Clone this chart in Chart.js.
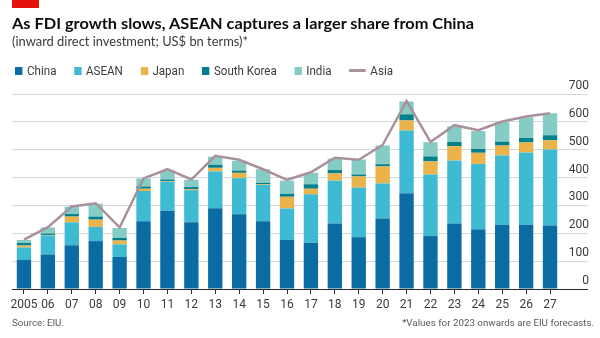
<!DOCTYPE html>
<html>
<head>
<meta charset="utf-8">
<script src="https://cdn.jsdelivr.net/npm/chart.js@4.4.1/dist/chart.umd.min.js"></script>
<style>
  html, body { margin: 0; padding: 0; background: #fff; }
  #wrap { position: relative; width: 600px; height: 338px; overflow: hidden; }
  #chart { position: absolute; left: 0; top: 0; }
  .txt { position: absolute; white-space: nowrap; transform-origin: 0 0; }
  #tag { position: absolute; left: 12px; top: 0; width: 27px; height: 8px; background: #e3120b; }
  #title { left: 12px; top: 12.5px; font: 700 16px/1.2 Lato, sans-serif; color: #0d0d0d; }
  #sub { left: 12px; top: 33.5px; font: 400 12.8px/1.2 Lato, sans-serif; color: #3a3a3a; }
  #legend { left: 15px; top: 63px; font: 400 12.5px/1.2 Roboto, sans-serif; color: #3b3b3b; display: flex; align-items: center; }
  .item { display: flex; align-items: center; margin-right: 19px; }
  .item:last-child { margin-right: 0; }
  .sw { width: 8px; height: 8px; margin-right: 5px; }
  .ln { width: 18px; height: 2.5px; margin-right: 5px; }
  #src { left: 12px; top: 317px; font: 400 9.8px/1.2 Roboto, sans-serif; color: #595959; }
  #note { right: 6px; top: 317px; font: 400 9.8px/1.2 Roboto, sans-serif; color: #595959; transform-origin: 100% 0; }
</style>
</head>
<body>
<div id="wrap">
  <canvas id="chart" width="600" height="338"></canvas>
  <div id="tag"></div>
  <div class="txt" id="title">As FDI growth slows, ASEAN captures a larger share from China</div>
  <div class="txt" id="sub">(inward direct investment; US$ bn terms)*</div>
  <div class="txt" id="legend"></div>
  <div class="txt" id="src">Source: EIU.</div>
  <div class="txt" id="note">*Values for 2023 onwards are EIU forecasts.</div>
</div>
<script>
// Years on the x axis
const years = ['2005', '06', '07', '08', '09', '10', '11', '12', '13', '14', '15', '16',
               '17', '18', '19', '20', '21', '22', '23', '24', '25', '26', '27'];

// Inward FDI, US$ bn
const china      = [104, 124, 157, 172, 115, 243, 281, 240, 290, 268, 243, 176, 166, 235, 186, 253, 344, 190, 235, 214, 231, 231, 228];
const asean      = [45, 68, 82, 51, 45, 109, 104, 115, 132, 130, 131, 113, 174, 154, 178, 126, 225, 221, 226, 235, 248, 259, 273];
const japan      = [7, 2, 21, 26, 14, 8, 2, 3, 13, 19, 3, 42, 20, 26, 40, 61, 36, 47, 52, 40, 36, 36, 33];
const southKorea = [9, 5, 9, 11, 9, 8, 6, 8, 11, 8, 4, 11, 16, 12, 7, 8, 22, 18, 15, 14, 14, 16, 18];
const india      = [11, 22, 27, 46, 36, 29, 32, 26, 29, 35, 49, 47, 41, 41, 54, 67, 46, 51, 56, 64, 70, 74, 79];
const asia       = [177, 222, 296, 308, 221, 397, 430, 393, 478, 464, 430, 392, 419, 471, 464, 517, 675, 528, 588, 570, 601, 619, 631];

const barSeries = [
  { name: 'China',       values: china,      color: '#0b6ba3' },
  { name: 'ASEAN',       values: asean,      color: '#3ebbd2' },
  { name: 'Japan',       values: japan,      color: '#ebb44b' },
  { name: 'South Korea', values: southKorea, color: '#02808b' },
  { name: 'India',       values: india,      color: '#84ccc4' }
];
const lineSeries = { name: 'Asia', values: asia, color: '#a8919d' };

// Squeeze a text block horizontally so it spans the given width
function fitWidth(el, width) {
  const natural = el.getBoundingClientRect().width;
  el.style.transform = 'scaleX(' + (width / natural) + ')';
}

// Legend
const legend = document.getElementById('legend');
barSeries.forEach(s => {
  const item = document.createElement('div');
  item.className = 'item';
  item.innerHTML = '<span class="sw" style="background:' + s.color + '"></span><span>' + s.name + '</span>';
  legend.appendChild(item);
});
{
  const item = document.createElement('div');
  item.className = 'item';
  item.innerHTML = '<span class="ln" style="background:' + lineSeries.color + '"></span><span>' + lineSeries.name + '</span>';
  legend.appendChild(item);
}

fitWidth(document.getElementById('title'), 462);
fitWidth(document.getElementById('sub'), 236);
fitWidth(legend, 378);
fitWidth(document.getElementById('src'), 52);
fitWidth(document.getElementById('note'), 192);

const axisFont = { family: 'Roboto', size: 12 };

const datasets = [
  {
    type: 'line',
    label: lineSeries.name,
    data: lineSeries.values,
    borderColor: lineSeries.color,
    borderWidth: 2.5,
    pointRadius: 0,
    tension: 0,
    fill: false,
    stack: 'total',
    order: 0
  }
].concat(barSeries.map(s => ({
  type: 'bar',
  label: s.name,
  data: s.values,
  backgroundColor: s.color,
  borderWidth: 0,
  stack: 'fdi',
  order: 1
})));

new Chart(document.getElementById('chart'), {
  type: 'bar',
  data: { labels: years, datasets: datasets },
  options: {
    responsive: false,
    animation: false,
    devicePixelRatio: 1,
    layout: { padding: { left: 12, right: 11, top: 94, bottom: 25 } },
    plugins: { legend: { display: false }, tooltip: { enabled: false } },
    datasets: { bar: { barPercentage: 0.6, categoryPercentage: 1 } },
    scales: {
      x: {
        stacked: true,
        offset: true,
        grid: { display: true, drawOnChartArea: false, drawTicks: true, tickLength: 5, color: '#2b2b2b', offset: false, lineWidth: 1 },
        border: { display: true, color: '#2b2b2b', width: 1 },
        ticks: { color: '#3a3a3a', font: axisFont, padding: 4, maxRotation: 0, autoSkip: false },
        afterFit(scale) { scale.height = 24; }
      },
      y: {
        position: 'right',
        stacked: true,
        min: 0,
        max: 700,
        ticks: { stepSize: 100, color: '#3a3a3a', font: axisFont, crossAlign: 'far', labelOffset: -8, padding: 0 },
        grid: {
          color: c => (c.tick && c.tick.value === 0) ? '#2b2b2b' : '#d5d9dc',
          lineWidth: 1,
          tickLength: 26,
          drawTicks: true
        },
        border: { display: false },
        afterFit(scale) { scale.width = 27; }
      }
    }
  }
});
</script>
</body>
</html>
